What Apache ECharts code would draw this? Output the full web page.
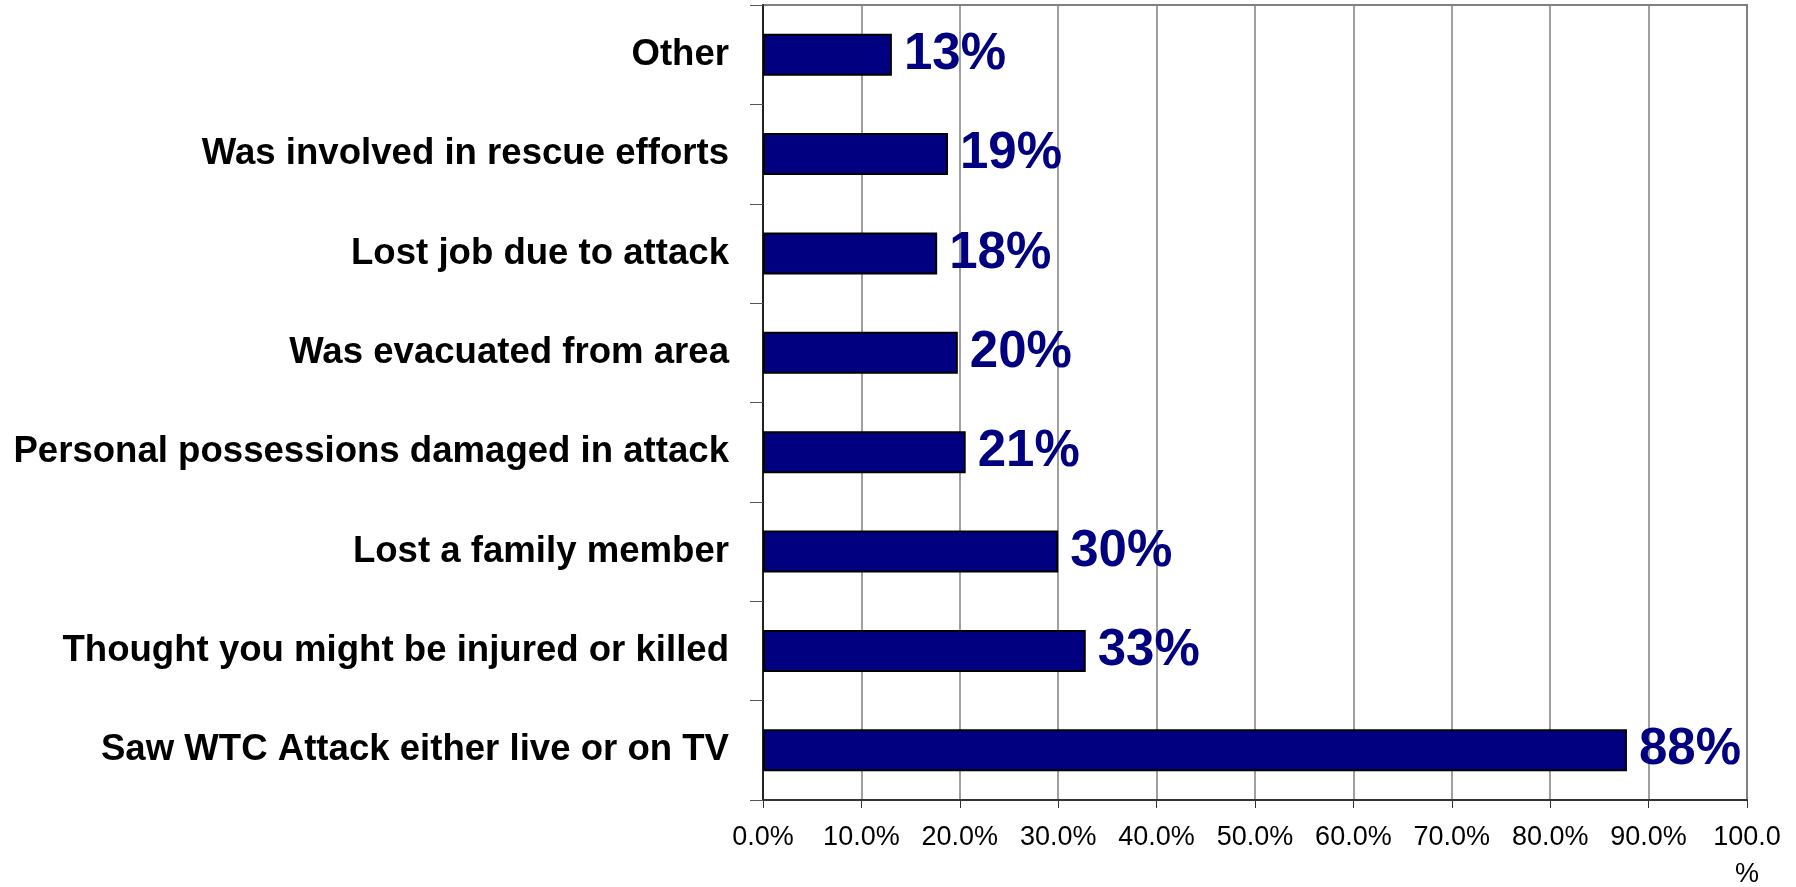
<!DOCTYPE html>
<html>
<head>
<meta charset="utf-8">
<script src="https://cdn.jsdelivr.net/npm/echarts@6/dist/echarts.min.js"></script>
<style>
  html, body { margin: 0; padding: 0; background: #fff; }
  #chart { width: 1796px; height: 887px; }
</style>
</head>
<body>
<div id="chart"></div>
<script>
// categories listed bottom to top (category axis starts at the bottom)
const categories = [
  'Saw WTC Attack either live or on TV',
  'Thought you might be injured or killed',
  'Lost a family member',
  'Personal possessions damaged in attack',
  'Was evacuated from area',
  'Lost job due to attack',
  'Was involved in rescue efforts',
  'Other'
];
// percentages
const values = [87.8, 32.8, 30.0, 20.6, 19.8, 17.7, 18.8, 13.1];
// the rounded labels printed next to each bar
const valueLabels = ['88%', '33%', '30%', '21%', '20%', '18%', '19%', '13%'];

const chart = echarts.init(document.getElementById('chart'));

const option = {
  animation: false,
  backgroundColor: '#fff',
  grid: {
    left: 763,
    right: 49,
    top: 5,
    bottom: 87,
    containLabel: false,
    outerBoundsMode: 'none',
    show: true,
    borderColor: '#808080',
    borderWidth: 2,
    backgroundColor: 'transparent'
  },
  xAxis: {
    type: 'value',
    min: 0,
    max: 100,
    interval: 10,
    axisLine: { show: true, lineStyle: { color: '#333', width: 2 } },
    axisTick: { show: true, length: 8, lineStyle: { color: '#333', width: 1 } },
    splitLine: { show: true, lineStyle: { color: '#808080', width: 1.5 } },
    axisLabel: {
      color: '#000',
      fontFamily: 'Liberation Sans, Arial, sans-serif',
      fontSize: 27,
      margin: 19,
      lineHeight: 37,
      formatter: function (v) {
        return v === 100 ? '100.0\n%' : v.toFixed(1) + '%';
      }
    }
  },
  yAxis: {
    type: 'category',
    data: categories,
    axisLine: { show: true, lineStyle: { color: '#222', width: 2 } },
    axisTick: { show: true, length: 13, lineStyle: { color: '#555', width: 1 } },
    splitLine: { show: false },
    axisLabel: {
      color: '#000',
      fontFamily: 'Liberation Sans, Arial, sans-serif',
      fontWeight: 'bold',
      fontSize: 36.6,
      margin: 34
    }
  },
  series: [
    {
      type: 'bar',
      data: values,
      barWidth: 42,
      itemStyle: {
        color: '#000080',
        borderColor: '#000',
        borderWidth: 2
      },
      label: {
        show: true,
        position: 'right',
        distance: 12,
        color: '#000080',
        fontFamily: 'Liberation Sans, Arial, sans-serif',
        fontWeight: 'bold',
        fontSize: 51,
        formatter: function (p) {
          return valueLabels[p.dataIndex];
        }
      }
    }
  ]
};

chart.setOption(option);
window.addEventListener('resize', function () {
  chart.resize();
});
</script>
</body>
</html>
